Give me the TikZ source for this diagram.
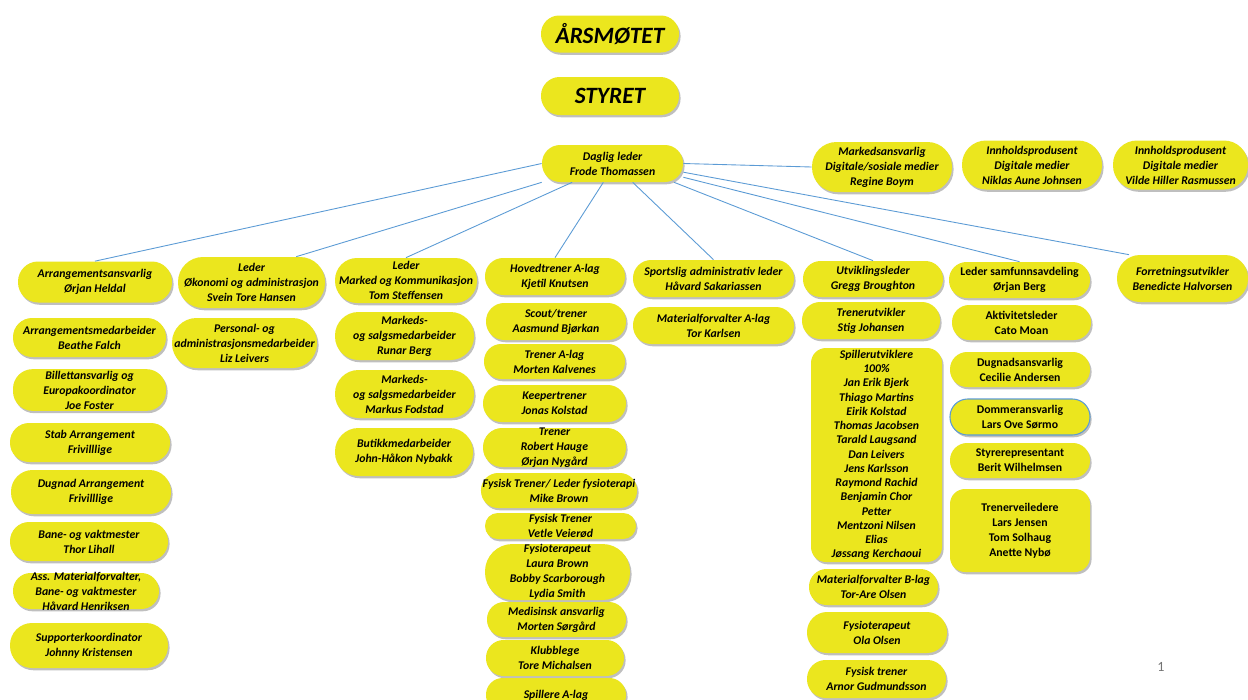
\documentclass[tikz,border=0pt]{standalone}
\usepackage{fontspec}
\setmainfont{Carlito}
\usetikzlibrary{shadows}
\definecolor{orgyellow}{RGB}{235,230,30}
\definecolor{orgblue}{RGB}{91,155,213}
\tikzset{
  box/.style={fill=orgyellow, align=center, inner sep=1pt,
    font=\fontsize{6.7}{8.5}\selectfont\bfseries\itshape,
    drop shadow={shadow xshift=0.9pt, shadow yshift=-1.3pt, opacity=0.5}},
  pill/.style 2 args={box, minimum width=#1*0.02cm, minimum height=#2*0.02cm, rounded corners=#2*0.0098cm},
  tallbox/.style 2 args={box, minimum width=#1*0.02cm, minimum height=#2*0.02cm, rounded corners=0.3cm},
  upright/.style={font=\fontsize{6.7}{8.5}\selectfont\bfseries},
  big/.style={font=\fontsize{13.3}{15}\selectfont\bfseries\itshape},
  link/.style={draw=orgblue, line width=0.5pt},
}

\begin{document}
\begin{tikzpicture}[x=0.02cm, y=-0.02cm]
\useasboundingbox (0,0) rectangle (1248,700);
\fill[white] (0,0) rectangle (1248,700);
\clip (0,0) rectangle (1248,700);
% top
\node[pill={138}{37}, big] (aarsmotet) at (610,34) {ÅRSMØTET};
\node[pill={138}{38}, big] (styret) at (610,96) {STYRET};
\node[pill={141}{37}] (daglig) at (612.5,163.5) {Daglig leder\\Frode Thomassen};
% digitale medier
\node[pill={140}{50}] (markedsansv) at (882,167) {Markedsansvarlig\\Digitale/sosiale medier\\Regine Boym};
\node[pill={140}{49}] (innhold1) at (1032,165) {Innholdsprodusent\\Digitale medier\\Niklas Aune Johnsen};
\node[pill={135}{49}] (innhold2) at (1180.5,165) {Innholdsprodusent\\Digitale medier\\Vilde Hiller Rasmussen};
% arrangement
\node[pill={154}{41}] (arrang) at (95,282) {Arrangementsansvarlig\\Ørjan Heldal};
\node[pill={153}{39}] (arrmed) at (89.5,337.5) {Arrangementsmedarbeider\\Beathe Falch};
\node[pill={153}{40}] (billett) at (89.5,390) {Billettansvarlig og\\Europakoordinator\\Joe Foster};
\node[pill={160}{39}] (stab) at (90,442.5) {Stab Arrangement\\Frivilllige};
\node[pill={160}{44}] (dugnadarr) at (91,492) {Dugnad Arrangement\\Frivilllige};
\node[pill={158}{39}] (bane) at (89,541.5) {Bane- og vaktmester\\Thor Lihall};
\node[pill={146}{36}, inner ysep=-2pt] (assmat) at (86,591) {Ass. Materialforvalter,\\Bane- og vaktmester\\Håvard Henriksen};
\node[pill={158}{45}] (supporter) at (89,645.5) {Supporterkoordinator\\Johnny Kristensen};
% okonomi
\node[pill={147}{51}] (okon) at (251.5,282.5) {Leder\\Økonomi og administrasjon\\Svein Tore Hansen};
\node[pill={145}{50}] (personal) at (244.5,343) {Personal- og\\administrasjonsmedarbeider\\Liz Leivers};
% marked
\node[pill={142}{45}] (marked) at (406,280.5) {Leder\\Marked og Kommunikasjon\\Tom Steffensen};
\node[pill={139}{48}] (markeds1) at (404.5,336) {Markeds-\\og salgsmedarbeider\\Runar Berg};
\node[pill={139}{48}] (markeds2) at (404.5,394) {Markeds-\\og salgsmedarbeider\\Markus Fodstad};
\node[pill={138}{48}] (butikk) at (404,452) {Butikkmedarbeider\\John-Håkon Nybakk};
% A-lag
\node[pill={140}{37}] (hoved) at (555,276.5) {Hovedtrener A-lag\\Kjetil Knutsen};
\node[pill={140}{37}] (scout) at (556,321.5) {Scout/trener\\Aasmund Bjørkan};
\node[pill={141}{35}] (trenera) at (554.5,361.5) {Trener A-lag\\Morten Kalvenes};
\node[pill={143}{37}] (keeper) at (554.5,403.5) {Keepertrener\\Jonas Kolstad};
\node[pill={143}{39}, inner ysep=-2pt] (robert) at (554.5,447.5) {Trener\\Robert Hauge\\Ørjan Nygård};
\node[pill={152}{35}] (fysled) at (559,490.5) {Fysisk Trener/ Leder fysioterapi\\Mike Brown};
\node[pill={151}{26}, inner ysep=-1pt] (vetle) at (560.5,526) {Fysisk Trener\\Vetle Veierød};
\node[pill={145}{56}, inner ysep=-1pt] (fysio) at (557.5,572) {Fysioterapeut\\Laura Brown\\Bobby Scarborough\\Lydia Smith};
\node[pill={139}{35}] (medis) at (556.5,619.5) {Medisinsk ansvarlig\\Morten Sørgård};
\node[pill={138}{36}] (klubb) at (555,658) {Klubblege\\Tore Michalsen};
\node[pill={140}{34}] (spillere) at (556,695) {Spillere A-lag};
% sportslig
\node[pill={161}{37}] (sports) at (713.5,278.5) {Sportslig administrativ leder\\Håvard Sakariassen};
\node[pill={161}{37}] (matA) at (713.5,325.5) {Materialforvalter A-lag\\Tor Karlsen};
% utvikling
\node[pill={140}{36}] (utvik) at (873,279) {Utviklingsleder\\Gregg Broughton};
\node[pill={138}{37}] (trenut) at (871,320.5) {Trenerutvikler\\Stig Johansen};
\node[tallbox={131}{214}, inner ysep=0pt, font=\fontsize{6.7}{8.1}\selectfont\bfseries\itshape] (spillerut) at (876.5,455)
  {Spillerutviklere\\100\%\\Jan Erik Bjerk\\Thiago Martins\\Eirik Kolstad\\Thomas Jacobsen\\Tarald Laugsand\\Dan Leivers\\Jens Karlsson\\Raymond Rachid\\Benjamin Chor\\Petter\\Mentzoni Nilsen\\Elias\\Jøssang Kerchaoui};
\node[pill={129}{36}] (matB) at (873.5,587) {Materialforvalter B-lag\\Tor-Are Olsen};
\node[pill={140}{41}] (fysola) at (877,632.5) {Fysioterapeut\\Ola Olsen};
\node[pill={139}{38}] (fysarnor) at (876.5,679) {Fysisk trener\\Arnor Gudmundsson};
% samfunn
\node[pill={141}{36}, upright] (samf) at (1019.5,280) {Leder samfunnsavdeling\\Ørjan Berg};
\node[pill={139}{35}, upright] (aktiv) at (1021.5,322.5) {Aktivitetsleder\\Cato Moan};
\node[pill={140}{35}, upright] (dugnad) at (1020,369.5) {Dugnadsansvarlig\\Cecilie Andersen};
\node[pill={140}{36}, upright, draw=orgblue, line width=0.6pt] (dommer) at (1020,417) {Dommeransvarlig\\Lars Ove Sørmo};
\node[pill={140}{35}, upright] (styrerep) at (1020,460.5) {Styrerepresentant\\Berit Wilhelmsen};
\node[tallbox={140}{83}, upright] (trenerv) at (1020,530.5) {Trenerveiledere\\Lars Jensen\\Tom Solhaug\\Anette Nybø};
% forretning
\node[pill={131}{47}] (forret) at (1182.5,278.5) {Forretningsutvikler\\Benedicte Halvorsen};
% lines
\draw[link] (daglig.west) -- (arrang.north);
\draw[link] (daglig.south west) -- (okon.30);
\draw[link] (daglig.205) -- (marked.north);
\draw[link] (daglig.244) -- (hoved.north);
\draw[link] (daglig.-43) -- (sports.north);
\draw[link] (daglig.east) -- (markedsansv.west);
\draw[link] (daglig.-17) -- (utvik.north);
\draw[link] (daglig.-11) -- (samf.north);
\draw[link] (daglig.-7) -- (forret.156);
%
\node[text=black!55, font=\fontsize{8}{9}\selectfont] (pagenr) at (1161,667) {1};
\end{tikzpicture}
\end{document}
